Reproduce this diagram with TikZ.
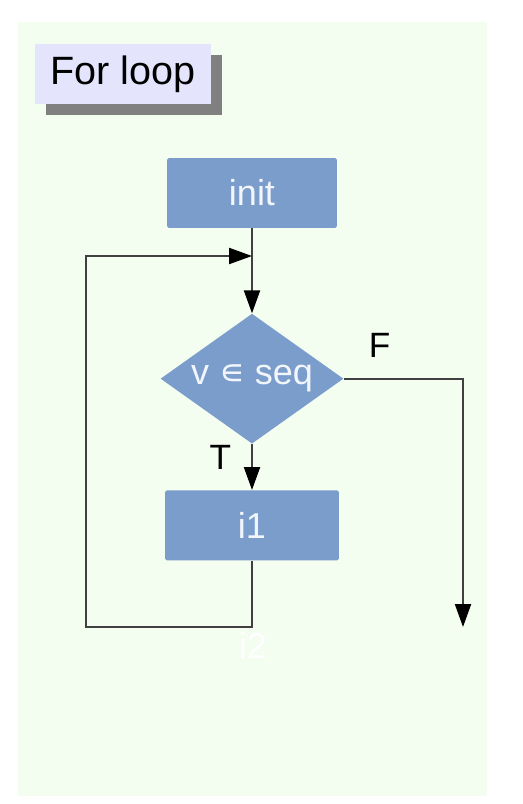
\documentclass[tikz,border=0pt]{standalone}
\usepackage{fontspec}
\setmainfont{Liberation Sans}
\newfontfamily\symfont{DejaVu Sans}
\usepackage{xcolor}
\usepackage{tikz}
\usetikzlibrary{shapes,arrows.meta,positioning,shadows}

\definecolor{panel}{RGB}{243,253,240}
\definecolor{boxblue}{RGB}{122,157,204}
\definecolor{titlefill}{RGB}{228,228,252}
\definecolor{boxtext}{RGB}{242,246,250}

\begin{document}
\begin{tikzpicture}[
    x=0.02cm, y=-0.02cm,
    node distance=1.7cm,
    block/.style={rectangle, fill=boxblue, rounded corners=1pt, minimum width=3.4cm, minimum height=1.4cm, text=boxtext, font=\fontsize{20.5}{24}\selectfont},
    decision/.style={diamond, fill=boxblue, minimum width=3.66cm, minimum height=2.6cm, inner sep=0pt, aspect=1.4, text=boxtext, font=\fontsize{20.5}{24}\selectfont},
    title/.style={rectangle, fill=titlefill, minimum width=3.54cm, minimum height=1.2cm, font=\fontsize{22.5}{26}\selectfont,
        drop shadow={shadow xshift=0.22cm, shadow yshift=-0.22cm, fill=black!50, opacity=1}},
    label/.style={font=\fontsize{20}{24}\selectfont},
    line/.style={draw=black!75, line width=1.2pt},
    arrow/.style={line, -{Triangle[length=0.46cm, width=0.32cm, color=black]}}
]
    \useasboundingbox (0,0) rectangle (522,804);
    \fill[panel] (18,22) rectangle (487,796);

    \node[title] (heading) at (123,74) {For loop};

    \node[block] (init) at (252,193) {init};
    \node[decision, below=1.7cm of init] (test) {v {\symfont ∊} seq};
    \node[block, minimum width=3.48cm, below=0.92cm of test] (body) {i1};

    \coordinate (merge) at (252,256);
    \coordinate (loopleft) at (86,627);
    \coordinate (exit) at (463,627);

    \draw[line] (init) -- (merge);
    \draw[arrow] (merge) -- (test);
    \draw[arrow] (test) -- node[label, left, pos=0.3, xshift=-8pt] {T} (body);
    \draw[arrow] (body.south) |- (loopleft) |- (merge);
    \draw[arrow] (test.east) -| node[label, above, pos=0.15, yshift=8pt] {F} (exit);

    \node[text=white, font=\fontsize{20.5}{24}\selectfont] (tail) at (253,645) {i2};
\end{tikzpicture}
\end{document}
